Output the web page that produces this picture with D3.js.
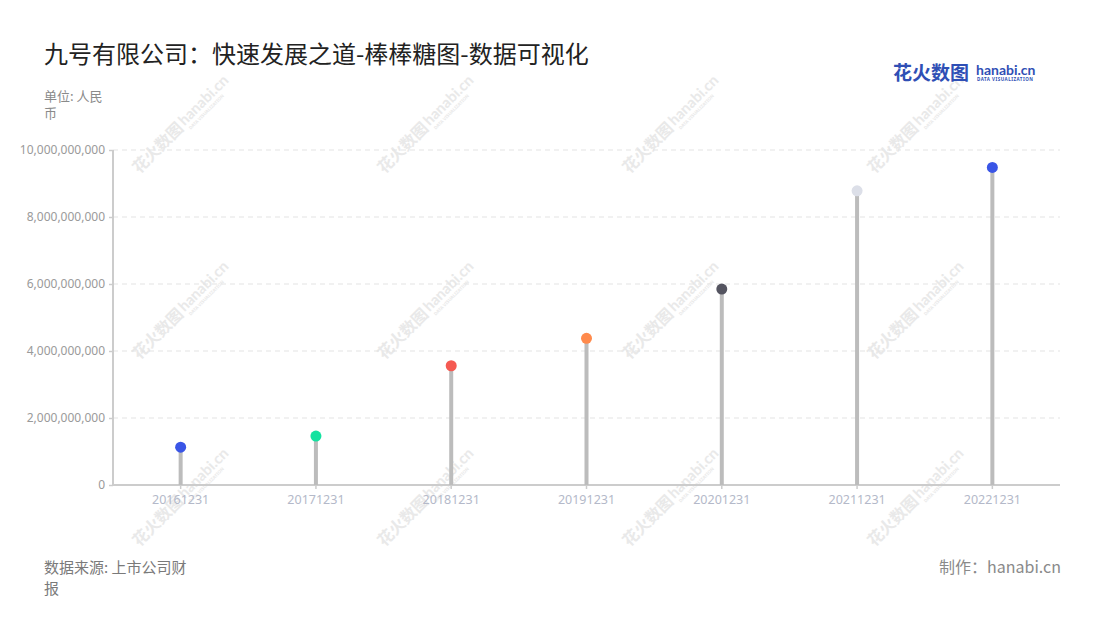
<!DOCTYPE html>
<html><head><meta charset="utf-8">
<script src="https://cdn.jsdelivr.net/npm/d3@7/dist/d3.min.js"></script>
<style>
html,body{margin:0;padding:0;background:#fff;}
svg{display:block;font-family:"Noto Sans CJK SC","Noto Sans",sans-serif;}
</style></head>
<body>
<svg id="chart" width="1100" height="620"></svg>
<script>
const categories = ["20161231","20171231","20181231","20191231","20201231","20211231","20221231"];
const values = [1130000000,1460000000,3560000000,4380000000,5850000000,8780000000,9480000000];
const pointColors = ["#3a55e6","#13e2a0","#f55a52","#ff8a4c","#545460","#dcdfe8","#3a55e6"];
const yTicks = [0,2000000000,4000000000,6000000000,8000000000,10000000000];
const titleText = "九号有限公司：快速发展之道-棒棒糖图-数据可视化";
const unitLines = ["单位: 人民","币"];
const sourceLines = ["数据来源: 上市公司财","报"];
const creditText = "制作：hanabi.cn";

const svg = d3.select("#chart");
const margin = {left:113, right:1060, top:150, bottom:485};

// watermarks
const wm = svg.append("g").attr("class","watermarks");
const wmCols = [183,428,673,918], wmRows = [122,308,495];
wmRows.forEach(cy => wmCols.forEach(cx => {
  const g = wm.append("g").attr("transform",`translate(${cx},${cy}) rotate(-45)`).attr("fill","#e9e9e9");
  g.append("text").attr("x",-68).attr("y",6).attr("font-size",16).attr("font-weight",700).text("花火数图");
  g.append("text").attr("x",-2).attr("y",4).attr("font-size",15).attr("font-weight",700)
    .attr("font-family","Lato, 'Noto Sans', sans-serif").text("hanabi.cn");
  g.append("text").attr("x",0).attr("y",11).attr("font-size",4.5).attr("font-weight",700)
    .attr("font-family","'Noto Sans', sans-serif").text("DATA VISUALIZATION");
}));

const x = d3.scaleBand().domain(categories).range([margin.left, margin.right]).padding(0);
const y = d3.scaleLinear().domain([0,10000000000]).range([margin.bottom, margin.top]);

// gridlines
svg.append("g").selectAll("line").data(yTicks.filter(d=>d>0)).join("line")
  .attr("x1",margin.left).attr("x2",margin.right)
  .attr("y1",d=>y(d)).attr("y2",d=>y(d))
  .attr("stroke","#e3e3e3").attr("stroke-width",1.2).attr("stroke-dasharray","5,4");

// y axis
const yAxis = svg.append("g").attr("transform",`translate(${margin.left},0)`)
  .call(d3.axisLeft(y).tickValues(yTicks).tickSize(4).tickPadding(4).tickFormat(d3.format(",")));
yAxis.select(".domain").attr("stroke","#cccccc").attr("stroke-width",2).attr("d",`M0,${margin.top}V${margin.bottom}`);
yAxis.selectAll(".tick line").attr("stroke","#cccccc").attr("stroke-width",1.5);
yAxis.selectAll(".tick text").attr("fill","#9a9a9a").attr("font-size",12)
  .attr("font-family","'Noto Sans', sans-serif");

// x axis
const xAxis = svg.append("g").attr("transform",`translate(0,${margin.bottom})`)
  .call(d3.axisBottom(x).tickSize(4).tickPadding(6));
xAxis.select(".domain").attr("stroke","#cccccc").attr("stroke-width",2).attr("d",`M${margin.left},0H${margin.right}`);
xAxis.selectAll(".tick line").attr("stroke","#cccccc").attr("stroke-width",1.5);
xAxis.selectAll(".tick text").attr("fill","#b4b9c9").attr("font-size",12.5)
  .attr("font-family","'Noto Sans', sans-serif");

// sticks
const cx = d => x(d) + x.bandwidth()/2;
svg.append("g").selectAll("line").data(categories).join("line")
  .attr("x1",cx).attr("x2",cx)
  .attr("y1",y(0)).attr("y2",(d,i)=>y(values[i]))
  .attr("stroke","#bcbcbc").attr("stroke-width",4);

// heads
svg.append("g").selectAll("circle").data(categories).join("circle")
  .attr("cx",cx).attr("cy",(d,i)=>y(values[i])).attr("r",5.5)
  .attr("fill",(d,i)=>pointColors[i]);

// title
svg.append("text").attr("x",44).attr("y",63).attr("font-size",24).attr("fill","#222").text(titleText);

// unit
svg.append("g").selectAll("text").data(unitLines).join("text")
  .attr("x",44).attr("y",(d,i)=>101+i*17).attr("font-size",13).attr("fill","#8a8a8a").text(d=>d);

// source
svg.append("g").selectAll("text").data(sourceLines).join("text")
  .attr("x",44).attr("y",(d,i)=>573+i*21).attr("font-size",15).attr("fill","#7a7a7a").text(d=>d);

svg.append("text").attr("x",1061).attr("y",573).attr("text-anchor","end")
  .attr("font-size",16).attr("fill","#8a8a8a").text(creditText);

// logo
const logo = svg.append("g");
logo.append("text").attr("x",893).attr("y",80).attr("font-size",19).attr("font-weight",700)
  .attr("fill","#2f4fb5").text("花火数图");
logo.append("text").attr("x",976).attr("y",75).attr("font-size",14).attr("font-weight",700)
  .attr("font-family","Lato, 'Noto Sans', sans-serif").attr("fill","#2f4fb5").text("hanabi.cn");
logo.append("text").attr("x",977).attr("y",81).attr("font-size",4.5).attr("font-weight",700)
  .attr("font-family","'Noto Sans', sans-serif").attr("fill","#2f4fb5").attr("letter-spacing",0.5).text("DATA VISUALIZATION");
</script>
</body></html>
